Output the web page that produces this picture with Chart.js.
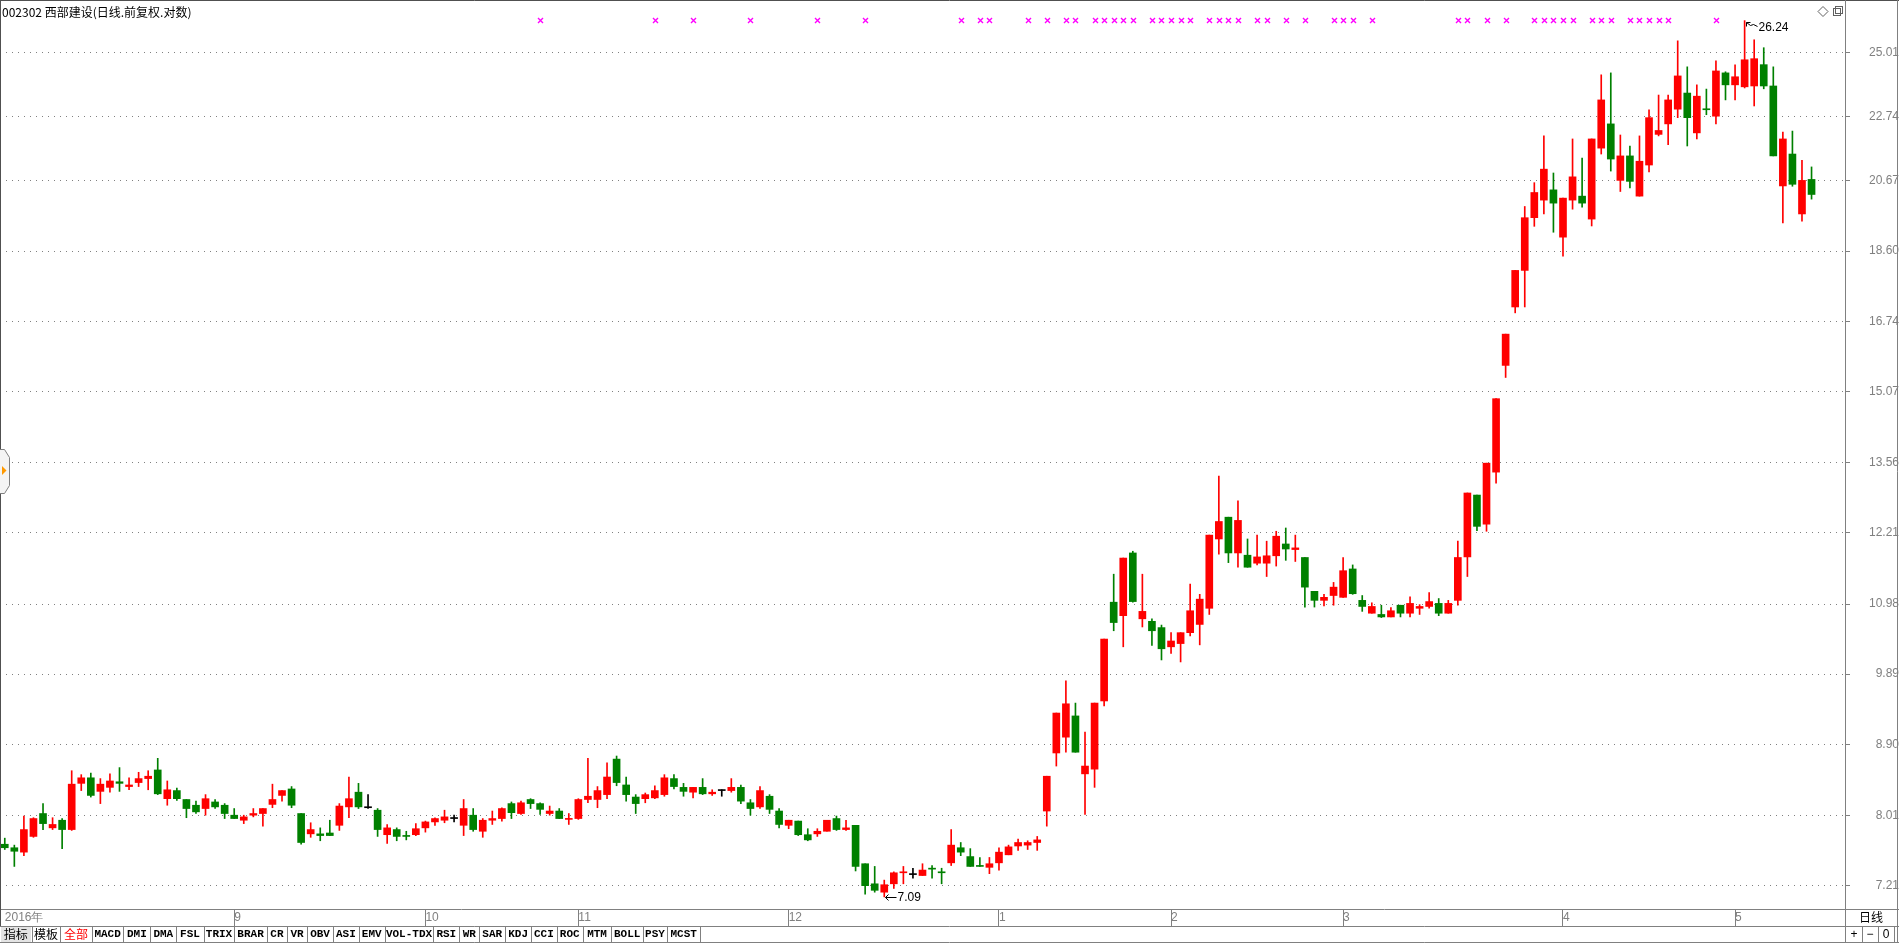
<!DOCTYPE html>
<html><head><meta charset="utf-8">
<style>html,body{margin:0;padding:0;background:#fff;overflow:hidden}canvas{display:block}</style>
<script src="https://cdn.jsdelivr.net/npm/chart.js@4/dist/chart.umd.min.js"></script>
</head><body>
<canvas id="c" width="1899" height="943"></canvas>
<script>
const stockTitle = '002302 西部建设(日线.前复权.对数)';
const periodLabel = '日线';
const monthLabels = ['2016年','9','10','11','12','1','2','3','4','5'];
const monthStarts = [0,24,44,60,82,104,122,140,163,181];
const priceTicks = [7.21,8.01,8.90,9.89,10.98,12.21,13.56,15.07,16.74,18.60,20.67,22.74,25.01];
const toolbarTabs = ['指标','模板','全部','MACD','DMI','DMA','FSL','TRIX','BRAR','CR','VR','OBV','ASI','EMV','VOL-TDX','RSI','WR','SAR','KDJ','CCI','ROC','MTM','BOLL','PSY','MCST'];
const signalDays = [56,68,72,78,85,90,100,102,103,107,109,111,112,114,115,116,117,118,120,121,122,123,124,126,127,128,129,131,132,134,136,139,140,141,143,152,153,155,157,160,161,162,163,164,166,167,168,170,171,172,173,174,179];

const openP = [
7.67,7.63,7.58,7.76,8.03,7.86,7.95,7.84,8.40,8.47,
8.30,8.35,8.42,8.36,8.41,8.46,8.57,8.21,8.31,8.20,
8.13,8.09,8.17,8.13,8.01,7.95,8.01,8.03,8.14,8.25,
8.33,8.03,7.79,7.79,7.80,7.89,8.11,8.29,8.10,8.07,
7.78,7.84,7.77,7.78,7.86,7.93,7.95,7.97,7.89,8.01,
7.82,7.95,7.97,8.15,8.03,8.20,8.15,8.03,8.06,7.96,
7.97,8.20,8.20,8.26,8.71,8.38,8.23,8.21,8.22,8.26,
8.46,8.35,8.29,8.35,8.27,8.31,8.31,8.35,8.16,8.11,
8.24,8.06,7.89,7.94,7.78,7.79,7.82,7.97,7.84,7.89,
7.45,7.23,7.14,7.23,7.35,7.33,7.32,7.40,7.36,7.46,
7.63,7.53,7.43,7.41,7.46,7.55,7.65,7.66,7.69,8.06,
8.79,9.00,9.29,8.52,8.58,9.50,11.01,10.79,11.85,10.74,
10.70,10.60,10.30,10.35,10.52,10.65,10.91,12.10,12.50,11.85,
11.81,11.67,11.67,11.80,12.01,11.91,11.77,11.19,11.04,11.12,
11.09,11.57,11.04,10.83,10.81,10.77,10.96,10.83,10.91,10.94,
10.99,10.83,11.04,11.78,12.92,12.37,13.37,15.68,17.11,18.07,
19.55,20.07,20.38,18.99,20.07,20.19,19.51,21.69,22.49,20.67,
21.44,20.19,21.15,22.14,22.49,22.99,23.55,22.19,23.00,22.75,
24.27,23.84,23.77,23.80,24.57,23.80,20.50,21.50,19.66,20.70];
const highP = [
7.74,7.66,8.00,7.98,8.15,7.98,7.97,8.56,8.51,8.53,
8.46,8.52,8.60,8.47,8.54,8.56,8.72,8.43,8.34,8.20,
8.18,8.26,8.20,8.15,8.09,8.01,8.09,8.09,8.39,8.31,
8.36,8.03,7.92,7.86,7.95,8.15,8.48,8.40,8.26,8.09,
7.90,7.86,7.82,7.91,7.94,7.98,8.07,8.01,8.20,8.09,
7.97,8.06,8.10,8.17,8.18,8.21,8.16,8.12,8.09,8.03,
8.21,8.72,8.36,8.66,8.75,8.48,8.26,8.28,8.37,8.51,
8.51,8.40,8.35,8.46,8.32,8.32,8.46,8.38,8.20,8.36,
8.26,8.09,7.95,7.94,7.85,7.85,7.95,8.00,7.95,7.89,
7.45,7.42,7.27,7.36,7.42,7.40,7.45,7.43,7.40,7.84,
7.69,7.62,7.52,7.52,7.63,7.66,7.73,7.71,7.76,8.49,
9.33,9.79,9.47,9.07,9.47,10.42,11.48,11.76,11.88,11.48,
10.74,10.64,10.52,10.52,11.31,11.14,12.17,13.29,12.50,12.81,
12.10,12.17,12.06,12.24,12.30,12.17,11.77,11.19,11.14,11.34,
11.77,11.64,11.12,11.00,10.96,10.92,10.96,11.10,10.97,11.17,
11.07,11.04,12.06,12.96,12.92,13.55,14.92,16.43,18.07,19.88,
20.60,22.09,20.90,20.13,21.99,21.37,21.99,24.20,24.27,22.12,
21.76,22.09,22.97,23.48,23.48,25.46,24.49,23.84,23.69,24.71,
24.31,24.56,26.24,25.50,25.20,24.49,22.22,22.25,21.30,21.09];
const lowP = [
7.61,7.42,7.54,7.75,7.84,7.84,7.62,7.83,8.31,8.23,
8.15,8.29,8.30,8.32,8.36,8.32,8.26,8.13,8.19,7.98,
8.03,8.01,8.09,7.97,7.97,7.91,7.99,7.88,8.10,8.18,
8.10,7.67,7.75,7.71,7.77,7.83,7.98,8.09,8.09,7.76,
7.68,7.71,7.72,7.77,7.81,7.89,7.92,7.93,7.77,7.82,
7.75,7.90,7.94,7.97,8.02,8.09,8.02,8.01,7.97,7.90,
7.96,8.16,8.10,8.21,8.37,8.18,8.03,8.16,8.21,8.24,
8.33,8.24,8.22,8.26,8.25,8.24,8.29,8.15,8.01,8.09,
8.03,7.86,7.85,7.77,7.71,7.76,7.82,7.83,7.83,7.37,
7.12,7.14,7.09,7.18,7.23,7.29,7.32,7.29,7.23,7.43,
7.54,7.42,7.42,7.34,7.38,7.55,7.60,7.61,7.60,7.88,
8.62,8.80,8.80,8.02,8.35,9.43,10.55,10.30,11.01,10.61,
10.32,10.10,10.20,10.07,10.47,10.33,10.81,11.83,11.68,11.60,
11.60,11.64,11.44,11.62,11.72,11.70,10.93,10.93,10.95,10.96,
11.09,11.14,10.86,10.83,10.76,10.77,10.77,10.77,10.81,10.91,
10.79,10.83,10.96,11.44,12.25,12.24,13.15,15.40,16.96,17.11,
19.30,19.66,19.13,18.46,19.80,19.86,19.31,21.50,20.96,20.33,
20.44,20.19,20.93,22.09,21.80,22.70,21.76,21.99,22.80,22.49,
23.31,23.31,23.73,23.10,23.70,21.44,19.40,20.49,19.45,20.10];
const closeP = [
7.63,7.59,7.84,7.97,7.91,7.90,7.84,8.39,8.47,8.25,
8.39,8.43,8.40,8.38,8.46,8.49,8.27,8.32,8.21,8.09,
8.05,8.21,8.11,8.03,7.97,7.99,8.03,8.09,8.20,8.31,
8.13,7.69,7.84,7.77,7.77,8.12,8.21,8.11,8.10,7.84,
7.86,7.76,7.76,7.85,7.93,7.97,7.99,7.97,8.09,7.84,
7.95,7.97,8.09,8.04,8.16,8.15,8.08,8.06,7.97,7.97,
8.20,8.24,8.31,8.48,8.41,8.26,8.15,8.26,8.31,8.47,
8.36,8.30,8.35,8.27,8.29,8.31,8.35,8.18,8.09,8.31,
8.08,7.90,7.95,7.78,7.72,7.82,7.95,7.84,7.86,7.42,
7.21,7.16,7.22,7.35,7.36,7.33,7.38,7.39,7.35,7.66,
7.58,7.42,7.42,7.45,7.58,7.64,7.69,7.69,7.72,8.49,
9.33,9.46,8.80,8.62,9.47,10.42,10.68,11.76,11.02,10.86,
10.55,10.27,10.39,10.52,10.87,11.06,12.17,12.42,11.85,12.44,
11.60,11.78,11.80,12.15,11.92,11.94,11.26,11.04,11.09,11.26,
11.54,11.15,10.94,10.94,10.77,10.87,10.83,10.99,10.94,11.02,
10.83,10.99,11.77,12.96,12.33,13.55,14.92,16.43,18.07,19.55,
20.30,21.02,19.98,20.13,20.78,19.98,21.99,23.31,21.34,21.44,
20.64,21.27,22.70,22.27,23.31,24.16,22.70,23.44,22.97,24.34,
23.84,24.13,24.75,24.79,23.80,21.44,21.99,20.55,20.67,20.24];

const N = openP.length;
const SLOTS = N + 3;
const labels = Array.from({length: SLOTS}, (_, i) => String(i));
const monthMap = {};
monthStarts.forEach((s, k) => { monthMap[s] = monthLabels[k]; });
const candleColor = i => closeP[i] > openP[i] ? '#FF0000' : (closeP[i] < openP[i] ? '#008000' : '#000000');
const colors = openP.map((_, i) => candleColor(i));
const bodies = openP.map((o, i) => [Math.min(o, closeP[i]), Math.max(o, closeP[i])]);
const wicks = lowP.map((l, i) => [l, highP[i]]);

const decor = {
  id: 'decor',
  afterDraw(chart) {
    const ctx = chart.ctx, xs = chart.scales.x, ys = chart.scales.y, area = chart.chartArea;
    const W = chart.width, H = chart.height;
    const line = (x1, y1, x2, y2, c, w) => { ctx.beginPath(); ctx.strokeStyle = c; ctx.lineWidth = w || 1; ctx.moveTo(x1, y1); ctx.lineTo(x2, y2); ctx.stroke(); };
    ctx.save();
    line(0, 0.5, W, 0.5, '#505050');
    line(0.5, 0, 0.5, 926, '#505050');
    line(area.right + 0.5, 0, area.right + 0.5, H, '#808080');
    line(W - 1.5, 0, W - 1.5, H, '#808080');
    line(0, 926.5, W, 926.5, '#808080');
    line(0, H - 0.5, W, H - 0.5, '#808080');
    line(area.right, area.bottom + 0.5, W, area.bottom + 0.5, '#808080');
    ctx.fillStyle = '#000';
    ctx.font = '12px "Noto Sans CJK SC"';
    ctx.textAlign = 'left'; ctx.textBaseline = 'middle';
    ctx.fillText(stockTitle, 2, 12);
    ctx.strokeStyle = '#606060'; ctx.lineWidth = 1;
    ctx.beginPath(); ctx.moveTo(1818, 11.5); ctx.lineTo(1823, 6.5); ctx.lineTo(1828, 11.5); ctx.lineTo(1823, 16.5); ctx.closePath(); ctx.stroke();
    ctx.strokeRect(1833.5, 8.5, 7, 7); ctx.strokeRect(1835.5, 6.5, 7, 7);
    ctx.fillStyle = '#f4f4f4'; ctx.strokeStyle = '#808080';
    ctx.beginPath(); ctx.moveTo(0, 449.5); ctx.lineTo(4.5, 449.5); ctx.lineTo(9.5, 457.5); ctx.lineTo(9.5, 485.5); ctx.lineTo(4.5, 493.5); ctx.lineTo(0, 493.5); ctx.fill(); ctx.stroke();
    ctx.fillStyle = '#FF9900';
    ctx.beginPath(); ctx.moveTo(2, 466); ctx.lineTo(6.5, 470.5); ctx.lineTo(2, 475); ctx.closePath(); ctx.fill();
    ctx.strokeStyle = '#FF00FF'; ctx.lineWidth = 1.4;
    signalDays.forEach(d => {
      const px = Math.round(xs.getPixelForValue(d)) + 0.5, py = 20.5;
      ctx.beginPath(); ctx.moveTo(px - 2.5, py - 2.5); ctx.lineTo(px + 2.5, py + 2.5);
      ctx.moveTo(px + 2.5, py - 2.5); ctx.lineTo(px - 2.5, py + 2.5); ctx.stroke();
    });
    let hi = 0, lo = 0;
    for (let i = 1; i < N; i++) { if (highP[i] > highP[hi]) hi = i; if (lowP[i] < lowP[lo]) lo = i; }
    ctx.strokeStyle = '#000'; ctx.fillStyle = '#000'; ctx.lineWidth = 1;
    ctx.font = '12px "Liberation Sans"'; ctx.textBaseline = 'middle'; ctx.textAlign = 'left';
    let hx = Math.round(xs.getPixelForValue(hi)) + 0.5, hy = Math.round(ys.getPixelForValue(highP[hi])) + 0.5;
    line(hx + 1, hy + 1, hx + 5, hy + 4, '#000'); line(hx + 5, hy + 4, hx + 8, hy + 3, '#000'); line(hx + 8, hy + 3, hx + 12, hy + 5, '#000');
    line(hx + 1, hy + 1, hx + 1, hy + 5, '#000'); line(hx + 1, hy + 1, hx + 5, hy + 1, '#000');
    ctx.fillText(highP[hi].toFixed(2), hx + 13, hy + 6);
    let lx = Math.round(xs.getPixelForValue(lo)) + 0.5, ly = Math.round(ys.getPixelForValue(lowP[lo])) + 0.5;
    line(lx + 1, ly, lx + 12, ly, '#000'); line(lx + 1, ly, lx + 4, ly - 3, '#000'); line(lx + 1, ly, lx + 4, ly + 3, '#000');
    ctx.fillText(lowP[lo].toFixed(2), lx + 13, ly);
    ctx.font = '12px "Noto Sans CJK SC"'; ctx.textAlign = 'center';
    ctx.fillText(periodLabel, 1871, 917.5);
    const edges = [0, 31.6, 60.3, 91.8, 123.4, 150.4, 176.2, 203.8, 234.2, 266.9, 287.0, 307.1, 333.0, 358.8, 384.6, 433.4, 459.2, 479.3, 505.2, 531.0, 556.8, 582.7, 611.4, 643.0, 667.0, 700.4];
    ctx.fillStyle = '#e4e4e4'; ctx.fillRect(1, 927, 30, 15);
    toolbarTabs.forEach((t, k) => {
      const a = edges[k], b = edges[k + 1];
      line(Math.round(b) + 0.5, 926, Math.round(b) + 0.5, H, '#808080');
      const cjk = /[\u4e00-\u9fff]/.test(t);
      ctx.font = cjk ? '12px "Noto Sans CJK SC"' : 'bold 11px "Liberation Mono"';
      ctx.fillStyle = t === '全部' ? '#FF0000' : '#000';
      ctx.textAlign = 'center';
      ctx.fillText(t, (a + b) / 2, 934.5);
    });
    [1862, 1878, 1894].forEach(x => line(x + 0.5, 926, x + 0.5, H, '#808080'));
    ctx.fillStyle = '#000'; ctx.font = '12px "Liberation Sans"'; ctx.textAlign = 'center';
    ctx.fillText('+', 1854, 934.5); ctx.fillText('−', 1870, 934.5); ctx.fillText('0', 1886, 934.5);
    ctx.restore();
  }
};

new Chart(document.getElementById('c'), {
  type: 'bar',
  data: {
    labels: labels,
    datasets: [
      { label: 'body', data: bodies, backgroundColor: colors, borderWidth: 0, barThickness: 7, grouped: false, minBarLength: 1, order: 0 },
      { label: 'wick', data: wicks, backgroundColor: colors, borderWidth: 0, barThickness: 1, grouped: false, order: 1 }
    ]
  },
  options: {
    responsive: false,
    animation: false,
    layout: { padding: { top: 2, left: 0, right: 0, bottom: 0 } },
    plugins: { legend: { display: false }, tooltip: { enabled: false }, title: { display: false } },
    scales: {
      x: {
        type: 'category', offset: true,
        grid: { offset: false, drawOnChartArea: false, drawTicks: true, tickLength: 17,
          tickColor: c => (monthMap[c.index] !== undefined && c.index > 0) ? '#808080' : 'rgba(0,0,0,0)', tickWidth: 1 },
        border: { display: true, color: '#808080', width: 1 },
        ticks: { autoSkip: false, maxRotation: 0, minRotation: 0, align: 'start', padding: -16, color: '#808080',
          font: { family: 'Liberation Sans', size: 12 },
          callback: (v, i) => monthMap[i] !== undefined ? monthMap[i] : '' },
        afterFit: s => { s.height = 34; s.paddingLeft = 0; s.paddingRight = 0; }
      },
      y: {
        type: 'logarithmic', position: 'right', min: 6.963, max: 26.98, bounds: 'data',
        afterBuildTicks: s => { s.ticks = priceTicks.map(v => ({ value: v })); },
        grid: { color: '#808080', lineWidth: 1, drawTicks: true, tickLength: 5, tickColor: '#808080', tickBorderDash: [] },
        border: { display: true, color: '#808080', width: 1, dash: [1, 5] },
        ticks: { color: '#808080', font: { family: 'Liberation Sans', size: 12 }, padding: 13, crossAlign: 'far', autoSkip: false,
          callback: v => Number(v).toFixed(2) },
        afterFit: s => { s.width = 54; s.paddingTop = 0; s.paddingBottom = 0; }
      }
    }
  },
  plugins: [decor]
});
</script>
</body></html>
